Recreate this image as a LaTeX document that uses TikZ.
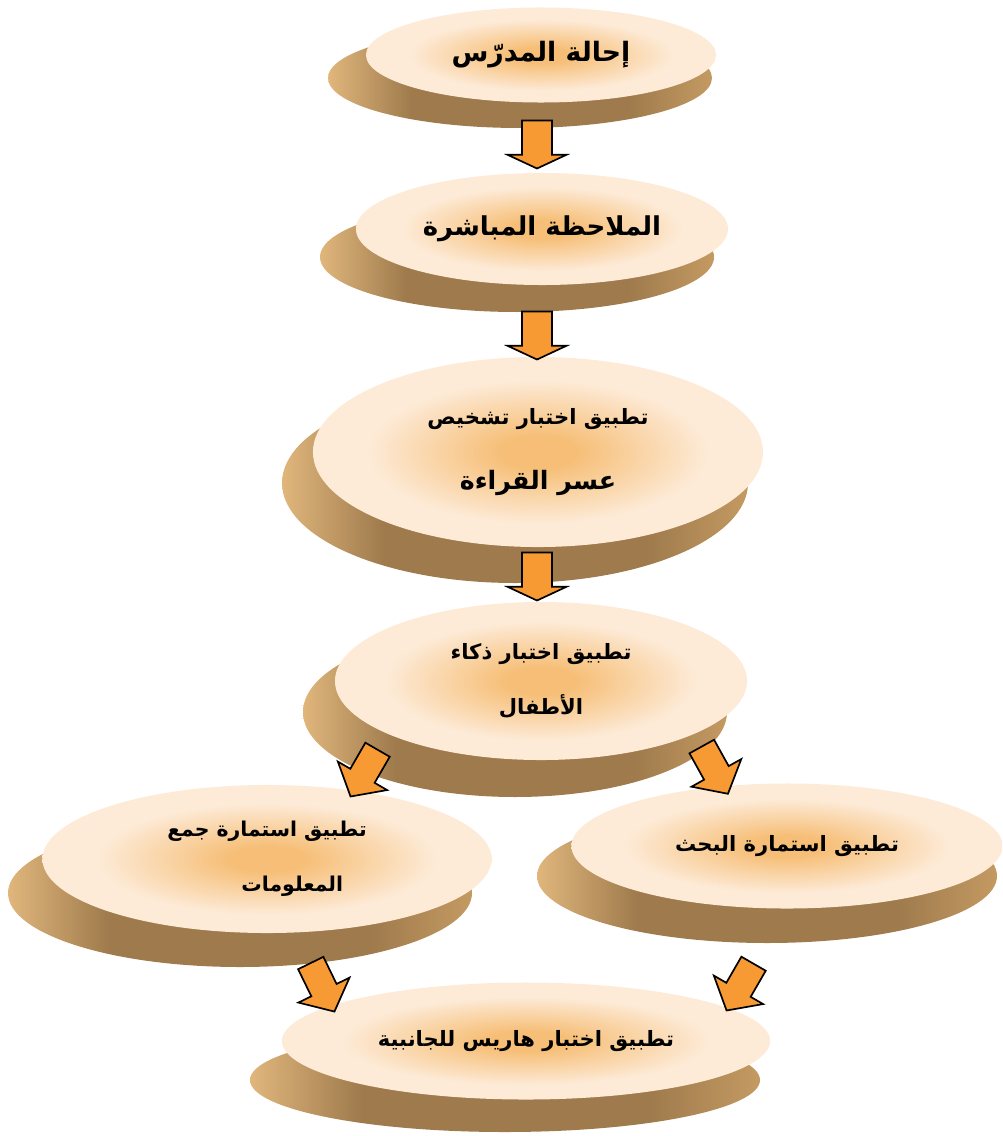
\documentclass[tikz,border=0pt]{standalone}
\usepackage{fontspec}
\usepackage{tikz}
\usetikzlibrary{shapes, shapes.arrows, backgrounds, calc}
\newfontfamily\arabicfont[Script=Arabic]{DejaVu Sans}
\TeXXeTstate=1
\definecolor{facein}{RGB}{246, 190, 118}
\definecolor{faceout}{RGB}{253, 235, 216}
\definecolor{sidelight}{RGB}{224, 182, 124}
\definecolor{sidedark}{RGB}{158, 122, 76}
\definecolor{sideright}{RGB}{196, 154, 98}
\definecolor{arrowfill}{RGB}{247, 154, 51}
\pgfdeclareradialshading{faceglow}{\pgfpoint{0bp}{0bp}}{color(0bp)=(facein); color(4bp)=(facein); color(19bp)=(faceout); color(50bp)=(faceout)}
\pgfdeclarehorizontalshading{sideglow}{100bp}{color(0bp)=(sidelight); color(25bp)=(sidelight); color(36bp)=(sidedark); color(64bp)=(sidedark); color(75bp)=(sideright); color(100bp)=(sideright)}
\newcommand{\arline}[1]{\beginR #1\endR}

\begin{document}
\begin{tikzpicture}[x=0.025cm, y=-0.025cm,
  disc/.style={ellipse, shade, shading=faceglow, inner sep=0pt, align=center},
  side/.style={shade, shading=sideglow},
  blockarrow/.style={single arrow, draw=black, line width=1.2pt, fill=arrowfill, inner xsep=0pt, inner ysep=0.355cm,
    minimum height=1.2cm, single arrow head extend=0.36cm, single arrow tip angle=130},
  diagarrow/.style={blockarrow, inner ysep=0.33cm, minimum height=1.35cm, single arrow head extend=0.36cm, single arrow tip angle=100}]
  \useasboundingbox (0,0) rectangle (1003,1136);

  % Steps
  \node[disc, minimum width=8.75cm, minimum height=2.375cm, font=\arabicfont\bfseries\fontsize{19}{22}\selectfont] (refer) at (541,55) {\arline{إحالة المدرّس}};
  \node[disc, minimum width=9.3cm, minimum height=2.8cm, font=\arabicfont\bfseries\fontsize{18.5}{22}\selectfont] (observe) at (542,229) {\arline{الملاحظة المباشرة}};
  \node[disc, minimum width=11.25cm, minimum height=4.75cm, font=\arabicfont\bfseries\fontsize{15}{46}\selectfont] (dyslexia) at (538,452) {\arline{تطبيق اختبار تشخيص}\\{\fontsize{18}{46}\selectfont\arline{عسر القراءة}}};
  \node[disc, minimum width=10.3cm, minimum height=3.95cm, font=\arabicfont\bfseries\fontsize{15}{39}\selectfont] (iq) at (541,681) {\arline{تطبيق اختبار ذكاء}\\\arline{الأطفال}};
  \node[disc, minimum width=11.225cm, minimum height=3.7cm, font=\arabicfont\bfseries\fontsize{14.5}{39}\selectfont] (info) at (267,859) {\arline{تطبيق استمارة جمع}\\\hspace*{36pt}\arline{المعلومات}};
  \node[disc, minimum width=10.775cm, minimum height=3.125cm, font=\arabicfont\bfseries\fontsize{15}{20}\selectfont] (survey) at (787,846) {\arline{تطبيق استمارة البحث}};
  \node[disc, minimum width=12.2cm, minimum height=2.925cm, font=\arabicfont\bfseries\fontsize{15}{20}\selectfont] (harris) at (526,1041) {\arline{تطبيق اختبار هاريس للجانبية}};

  % Sides of the discs
  \begin{scope}[on background layer]
    \foreach \n/\dx/\dy/\rx/\ry in {refer/-21/23/192/50, observe/-25/28/197/55, dyslexia/-23/31/233/100,
        iq/-26/31/212/85, info/-27/34/232/74, survey/-20/30/230/67, harris/-21/39/255/52}
      \path[side] ([shift={(\dx,\dy)}]\n.center) ellipse [x radius=\rx, y radius=\ry];
  \end{scope}

  % Arrows
  \node[blockarrow, rotate=-90] (a1) at (537,141) {};
  \node[blockarrow, rotate=-90] (a2) at (537,332) {};
  \node[blockarrow, rotate=-90] (a3) at (537,573) {};
  \node[diagarrow, rotate=-120] (a4) at (367,768) {};
  \node[diagarrow, rotate=-61] (a5) at (712,765) {};
  \node[diagarrow, rotate=-64] (a6) at (320,982) {};
  \node[diagarrow, rotate=-120] (a7) at (743,982) {};
\end{tikzpicture}
\end{document}
